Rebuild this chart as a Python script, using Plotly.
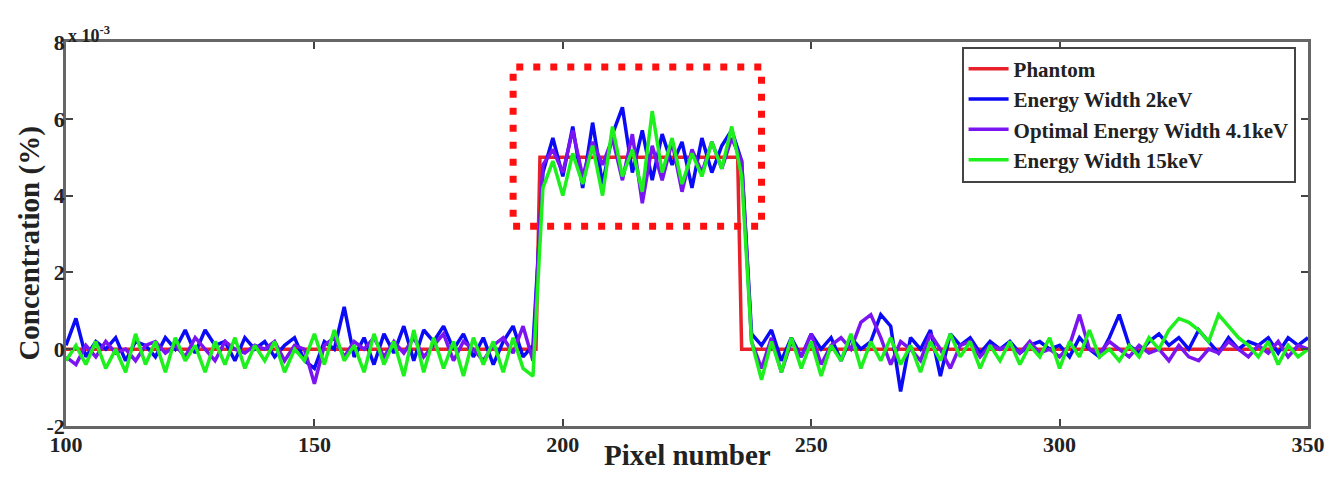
import plotly.graph_objects as go

# pixel positions (step 2)
pixels = list(range(100, 351, 2))

# phantom profile breakpoints
phantom_x = [100, 194.6, 195.4, 235.2, 236.0, 350]
phantom_y = [0, 0, 5, 5, 0, 0]

# values in units of 1e-3 %
blue_2kev = [
    0.1, 0.8, -0.2, 0.2, 0.0, 0.3, -0.3, 0.2, 0.1, -0.2,
    0.3, 0.0, 0.5, -0.1, 0.5, 0.1, 0.2, -0.3, 0.3, 0.0,
    0.2, -0.2, 0.1, 0.3, -0.3, -0.5, 0.2, 0.0, 1.1, -0.2,
    0.3, -0.4, 0.4, -0.1, 0.6, -0.3, 0.5, 0.2, 0.6, 0.0,
    0.4, -0.2, 0.3, -0.4, 0.2, 0.6, -0.2, 0.1,
    4.6, 5.5, 4.5, 5.8, 4.2, 5.9, 4.3, 5.6, 6.3, 4.6, 5.7, 4.4, 5.6, 4.8, 5.4, 4.2, 5.5, 4.6, 5.3, 5.7, 4.9,
    0.4, 0.1, 0.5, -0.3, 0.3, -0.2, 0.4, 0.0, 0.3, -0.3,
    0.3, 0.0, 0.2, 0.9, 0.6, -1.1, 0.3, 0.0, 0.5, -0.7,
    0.4, 0.1, 0.3, -0.1, 0.2, 0.0, 0.2, -0.1, 0.1, 0.2,
    0.0, 0.1, -0.2, 0.3, 0.0, -0.2, 0.3, 0.9, 0.1, -0.1,
    0.2, 0.4, 0.1, 0.3, 0.0, 0.5, 0.2, -0.1, 0.3, 0.0,
    0.2, 0.1, 0.3, -0.1, 0.3, 0.1, 0.3,
]
purple_4p1kev = [
    -0.2, -0.4, 0.1, -0.2, 0.2, -0.1, 0.0, -0.3, 0.1, 0.2,
    -0.1, 0.1, -0.2, 0.3, 0.0, -0.3, 0.2, 0.0, -0.1, 0.1,
    0.0, 0.2, -0.3, 0.1, 0.0, -0.9, 0.1, 0.3, -0.2, 0.2,
    0.0, 0.3, -0.2, 0.2, -0.1, 0.3, -0.2, 0.1, 0.4, -0.3,
    0.2, 0.0, -0.3, 0.1, 0.3, -0.1, 0.6, -0.3,
    4.8, 5.2, 4.6, 5.7, 4.5, 5.4, 4.8, 5.5, 4.4, 5.6, 3.8, 5.3, 4.4, 5.4, 4.1, 5.2, 4.6, 5.4, 4.7, 5.5, 4.9,
    0.2, -0.5, 0.3, -0.6, 0.2, -0.2, 0.4, -0.4, 0.1, 0.3,
    0.0, 0.7, 0.9, 0.3, -0.4, 0.2, 0.0, -0.3, 0.4, 0.0,
    -0.5, 0.1, 0.2, -0.2, 0.1, 0.0, 0.1, -0.1, 0.2, -0.1,
    0.0, -0.2, 0.1, 0.9, 0.0, -0.1, 0.2, 0.0, -0.2, 0.1,
    -0.1, 0.0, -0.3, 0.1, -0.2, -0.3, 0.0, -0.1, 0.2, 0.0,
    -0.2, 0.1, -0.1, 0.2, -0.2, 0.1, 0.0,
]
green_15kev = [
    -0.3, 0.1, -0.4, 0.2, -0.5, 0.0, -0.6, 0.4, -0.4, 0.2,
    -0.6, 0.3, -0.3, 0.1, -0.6, 0.2, -0.4, 0.3, -0.5, 0.1,
    -0.3, 0.2, -0.6, 0.0, -0.3, 0.4, -0.4, 0.5, -0.3, 0.1,
    -0.6, 0.4, -0.4, 0.2, -0.7, 0.5, -0.6, 0.3, -0.5, 0.2,
    -0.7, 0.3, -0.4, 0.2, -0.6, 0.3, -0.5, -0.7,
    4.2, 4.9, 4.0, 5.1, 4.3, 5.3, 4.0, 5.8, 4.5, 5.2, 4.1, 6.2, 4.6, 5.5, 4.3, 5.1, 4.5, 5.4, 4.7, 5.8, 4.5,
    0.2, -0.8, 0.2, -0.6, 0.3, -0.5, 0.2, -0.7, 0.1, -0.3,
    0.4, -0.5, 0.2, -0.3, 0.3, -0.4, 0.1, -0.6, 0.2, -0.3,
    0.4, -0.2, 0.2, -0.5, 0.1, -0.3, 0.2, -0.4, 0.1, -0.2,
    0.3, -0.5, 0.2, -0.2, 0.5, -0.2, 0.0, -0.3, 0.1, -0.2,
    0.3, 0.0, 0.5, 0.8, 0.7, 0.5, 0.2, 0.9, 0.6, 0.3,
    0.1, -0.2, 0.2, -0.4, 0.1, -0.2, 0.0,
]

x_ticks = [100, 150, 200, 250, 300, 350]
y_ticks = [-2, 0, 2, 4, 6, 8]

# highlighted region
box_x = [190, 240]
box_y = [3.2, 7.35]

font_family = "Liberation Serif"
txt = "#222"

fig = go.Figure()
fig.add_trace(go.Scatter(x=phantom_x, y=phantom_y, mode="lines", name="<b>Phantom</b>",
                         line=dict(color="#e8202a", width=3.5)))
fig.add_trace(go.Scatter(x=pixels, y=blue_2kev, mode="lines", name="<b>Energy Width 2keV</b>",
                         line=dict(color="#0a0af5", width=3.5)))
fig.add_trace(go.Scatter(x=pixels, y=purple_4p1kev, mode="lines", name="<b>Optimal Energy Width 4.1keV</b>",
                         line=dict(color="#7a14f0", width=3.5)))
fig.add_trace(go.Scatter(x=pixels, y=green_15kev, mode="lines", name="<b>Energy Width 15keV</b>",
                         line=dict(color="#1ef01e", width=3.5)))

fig.add_shape(type="rect", xref="x", yref="y", x0=box_x[0], x1=box_x[1], y0=box_y[0], y1=box_y[1],
              line=dict(color="#ff1010", width=7, dash="7px,10px"))

fig.add_annotation(xref="paper", yref="paper", x=0.0, y=1.0, xanchor="left", yanchor="bottom",
                   text="<b>x 10<sup>-3</sup></b>", showarrow=False, xshift=0, yshift=-6,
                   font=dict(family=font_family, size=18, color=txt))

# axis titles placed as annotations for exact positioning
fig.add_annotation(xref="paper", yref="paper", x=0.5, y=-0.075, xanchor="center", yanchor="middle",
                   text="<b>Pixel number</b>", showarrow=False,
                   font=dict(family=font_family, size=29, color=txt))
fig.add_annotation(xref="paper", yref="paper", x=-0.029, y=0.475, xanchor="center", yanchor="middle",
                   text="<b>Concentration (%)</b>", showarrow=False, textangle=-90,
                   font=dict(family=font_family, size=29, color=txt))

fig.update_layout(
    width=1337, height=489,
    margin=dict(l=66, r=17, t=42, b=63),
    plot_bgcolor="white", paper_bgcolor="white",
    font=dict(family=font_family, color=txt),
    showlegend=True,
    legend=dict(x=0.99, y=0.988, xanchor="right", yanchor="top",
                bordercolor="#444", borderwidth=2, bgcolor="white",
                font=dict(family=font_family, size=21, color=txt),
                tracegroupgap=0, itemwidth=40),
)
fig.update_xaxes(range=[100, 350], tickvals=x_ticks, ticktext=[f"<b>{v}</b>" for v in x_ticks],
                 ticks="inside", ticklen=7, tickwidth=1.5, ticklabelstandoff=-3,
                 tickcolor="#444", showline=True, linecolor="#666", linewidth=2.5, mirror="allticks",
                 showgrid=False, zeroline=False,
                 tickfont=dict(family=font_family, size=22, color=txt))
fig.update_yaxes(range=[-2, 8], tickvals=y_ticks, ticktext=[f"<b>{v}</b>" for v in y_ticks],
                 ticks="inside", ticklen=7, tickwidth=1.5, ticklabelstandoff=-6,
                 tickcolor="#444", showline=True, linecolor="#666", linewidth=2.5, mirror="allticks",
                 showgrid=False, zeroline=False,
                 tickfont=dict(family=font_family, size=22, color=txt))

fig.write_html("out.html")
